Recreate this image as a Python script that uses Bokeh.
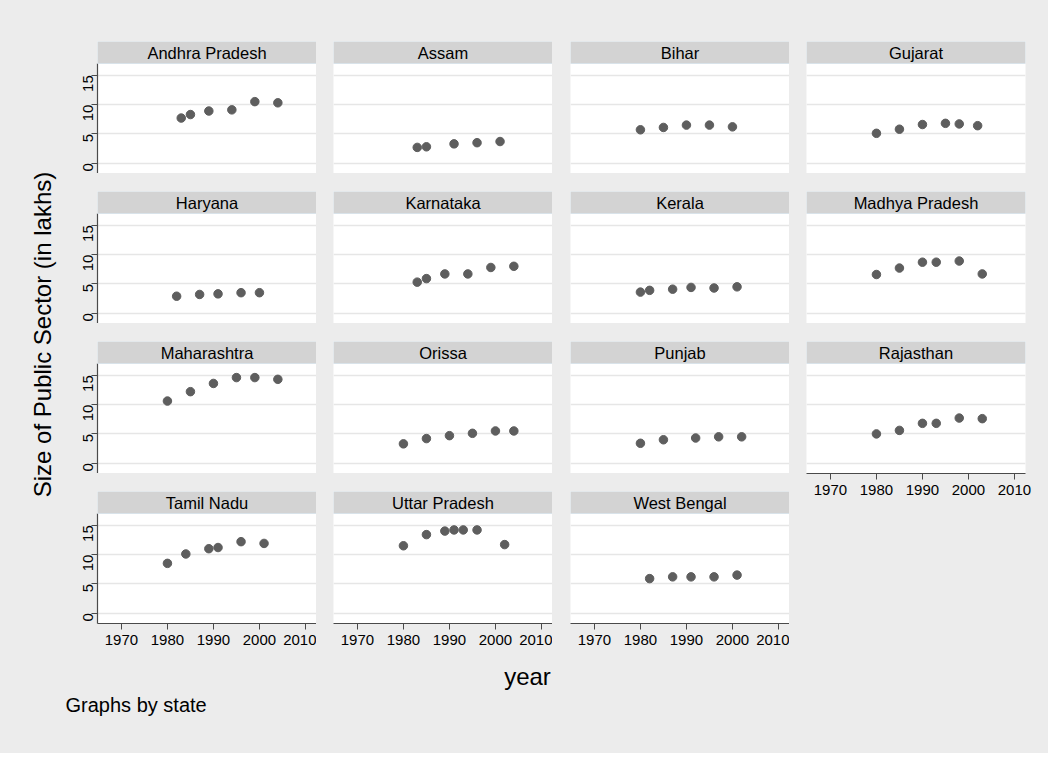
import math
from bokeh.plotting import figure
from bokeh.layouts import row, column
from bokeh.models import Range1d, LinearAxis, FixedTicker, Grid, BoxAnnotation, Label
from bokeh.embed import file_html
from bokeh.resources import INLINE

# ---------------- data ----------------
states = ["Andhra Pradesh", "Assam", "Bihar", "Gujarat",
          "Haryana", "Karnataka", "Kerala", "Madhya Pradesh",
          "Maharashtra", "Orissa", "Punjab", "Rajasthan",
          "Tamil Nadu", "Uttar Pradesh", "West Bengal"]

andhra_year = [1983, 1985, 1989, 1994, 1999, 2004]
andhra_size = [7.7, 8.3, 8.9, 9.1, 10.5, 10.3]
assam_year = [1983, 1985, 1991, 1996, 2001]
assam_size = [2.7, 2.8, 3.3, 3.5, 3.7]
bihar_year = [1980, 1985, 1990, 1995, 2000]
bihar_size = [5.7, 6.1, 6.5, 6.5, 6.2]
gujarat_year = [1980, 1985, 1990, 1995, 1998, 2002]
gujarat_size = [5.1, 5.8, 6.6, 6.8, 6.7, 6.4]
haryana_year = [1982, 1987, 1991, 1996, 2000]
haryana_size = [2.9, 3.2, 3.3, 3.5, 3.5]
karnataka_year = [1983, 1985, 1989, 1994, 1999, 2004]
karnataka_size = [5.3, 5.9, 6.7, 6.7, 7.8, 8.0]
kerala_year = [1980, 1982, 1987, 1991, 1996, 2001]
kerala_size = [3.6, 3.9, 4.1, 4.4, 4.3, 4.5]
madhya_year = [1980, 1985, 1990, 1993, 1998, 2003]
madhya_size = [6.6, 7.7, 8.7, 8.7, 8.9, 6.7]
maharashtra_year = [1980, 1985, 1990, 1995, 1999, 2004]
maharashtra_size = [10.6, 12.2, 13.6, 14.6, 14.6, 14.3]
orissa_year = [1980, 1985, 1990, 1995, 2000, 2004]
orissa_size = [3.3, 4.2, 4.7, 5.1, 5.5, 5.5]
punjab_year = [1980, 1985, 1992, 1997, 2002]
punjab_size = [3.4, 4.0, 4.3, 4.5, 4.5]
rajasthan_year = [1980, 1985, 1990, 1993, 1998, 2003]
rajasthan_size = [5.0, 5.6, 6.8, 6.8, 7.7, 7.6]
tamil_year = [1980, 1984, 1989, 1991, 1996, 2001]
tamil_size = [8.5, 10.1, 11.0, 11.2, 12.2, 11.9]
uttar_year = [1980, 1985, 1989, 1991, 1993, 1996, 2002]
uttar_size = [11.5, 13.4, 14.0, 14.2, 14.2, 14.2, 11.7]
bengal_year = [1982, 1987, 1991, 1996, 2001]
bengal_size = [5.9, 6.2, 6.2, 6.2, 6.5]

years_list = [andhra_year, assam_year, bihar_year, gujarat_year,
              haryana_year, karnataka_year, kerala_year, madhya_year,
              maharashtra_year, orissa_year, punjab_year, rajasthan_year,
              tamil_year, uttar_year, bengal_year]
sizes_list = [andhra_size, assam_size, bihar_size, gujarat_size,
              haryana_size, karnataka_size, kerala_size, madhya_size,
              maharashtra_size, orissa_size, punjab_size, rajasthan_size,
              tamil_size, uttar_size, bengal_size]

x_ticks = [1970, 1980, 1990, 2000, 2010]
y_ticks = [0, 5, 10, 15]
x_title = "year"
y_title = "Size of Public Sector (in lakhs)"
note = "Graphs by state"

# ---------------- style ----------------
FONT = "Liberation Sans"
BG = "#ececec"
HEADER_FILL = "#d3d3d3"
HEADER_LINE = "#d9e3ea"
GRID = "#e6e6e6"
MARK = "#5e5e5e"
AXIS = "#4a4a4a"

X0, X1 = 1964.8, 2012.4
Y0, YP = -1.75, 17.0          # plot region
HDR_PX = 22
FRAME_H = 132
PLOT_H = FRAME_H - HDR_PX
Y1 = YP + HDR_PX * (YP - Y0) / PLOT_H   # top of header

TOP0 = 41
TOP_H = 663
col_w = [254, 236, 237, 259]
col_left = [35, 17, 18, 17]
col_right = [0, 0, 0, 23]


def make_panel(idx, c, r, n_rows):
    top = TOP0 if r == 0 else 18
    prev = (TOP0 + FRAME_H) + 150 * (r - 1) if r > 0 else 0
    last = (r == n_rows - 1)
    bottom = TOP_H - prev - top - FRAME_H if last else 0
    h = top + FRAME_H + bottom
    p = figure(width=col_w[c], height=h,
               x_range=Range1d(X0, X1), y_range=Range1d(Y0, Y1),
               x_axis_location=None, y_axis_location=None,
               output_backend="svg", toolbar_location=None,
               min_border_left=col_left[c], min_border_right=col_right[c],
               min_border_top=top, min_border_bottom=bottom)
    p.background_fill_color = "white"
    p.border_fill_color = BG
    p.outline_line_color = None
    for g in p.grid:
        g.visible = False
    p.add_layout(Grid(dimension=1, ticker=FixedTicker(ticks=y_ticks),
                      grid_line_color=GRID, grid_line_width=1.5))
    p.scatter(x=years_list[idx], y=sizes_list[idx], size=8.5,
              fill_color=MARK, line_color=MARK)
    p.add_layout(BoxAnnotation(bottom=YP, fill_color=HEADER_FILL, fill_alpha=1.0,
                               line_color=HEADER_LINE, line_width=1, line_alpha=1.0))
    p.add_layout(Label(x=(X0 + X1) / 2, y=(YP + Y1) / 2, text=states[idx],
                       text_align="center", text_baseline="middle",
                       text_font=FONT, text_font_size="16.5px", text_color="black"))
    if c == 0:
        ya = LinearAxis(ticker=FixedTicker(ticks=y_ticks), bounds=(Y0, YP),
                        axis_line_color=AXIS, axis_line_width=1.2,
                        major_tick_line_color=AXIS, major_tick_out=6, major_tick_in=0,
                        minor_tick_out=0, minor_tick_in=0,
                        major_label_orientation=math.pi / 2,
                        major_label_standoff=3,
                        major_label_text_font=FONT,
                        major_label_text_font_size="15px",
                        major_label_text_color="black")
        p.add_layout(ya, "left")
    if last:
        xa = LinearAxis(ticker=FixedTicker(ticks=x_ticks),
                        axis_line_color=AXIS, axis_line_width=1.2,
                        major_tick_line_color=AXIS, major_tick_out=6, major_tick_in=0,
                        minor_tick_out=0, minor_tick_in=0,
                        major_label_standoff=5,
                        major_label_text_font=FONT,
                        major_label_text_font_size="15px",
                        major_label_text_color="black")
        p.add_layout(xa, "below")
    return p


columns = []
for c in range(4):
    idxs = [i for i in range(len(states)) if i % 4 == c]
    figs = [make_panel(i, c, k, len(idxs)) for k, i in enumerate(idxs)]
    columns.append(column(*figs, spacing=0, styles={"background-color": BG}))

# y-title strip
YT_W = 62
yt = figure(width=YT_W, height=TOP_H, x_range=Range1d(0, YT_W), y_range=Range1d(TOP_H, 0),
            x_axis_location=None, y_axis_location=None,
            output_backend="svg", toolbar_location=None,
            min_border_left=0, min_border_right=0, min_border_top=0, min_border_bottom=0)
yt.background_fill_color = BG
yt.border_fill_color = BG
yt.outline_line_color = None
yt.grid.visible = False
yt.add_layout(Label(x=42, y=334, text=y_title, angle=math.pi / 2,
                    text_align="center", text_baseline="middle",
                    text_font=FONT, text_font_size="24px", text_color="black"))

# bottom strip
BOT_H = 90
TOT_W = YT_W + sum(col_w)
bt = figure(width=TOT_W, height=BOT_H, x_range=Range1d(0, TOT_W), y_range=Range1d(BOT_H, 0),
            x_axis_location=None, y_axis_location=None,
            output_backend="svg", toolbar_location=None,
            min_border_left=0, min_border_right=0, min_border_top=0, min_border_bottom=0)
bt.background_fill_color = BG
bt.border_fill_color = BG
bt.outline_line_color = None
bt.grid.visible = False
bt.add_layout(Label(x=527, y=13, text=x_title, text_align="center", text_baseline="middle",
                    text_font=FONT, text_font_size="24px", text_color="black"))
bt.add_layout(Label(x=65, y=41, text=note, text_align="left", text_baseline="middle",
                    text_font=FONT, text_font_size="20px", text_color="black"))

layout = column(row(yt, *columns, spacing=0, styles={"background-color": BG}), bt,
                spacing=0, styles={"background-color": BG})

with open("out.html", "w") as f:
    f.write(file_html(layout, INLINE))
